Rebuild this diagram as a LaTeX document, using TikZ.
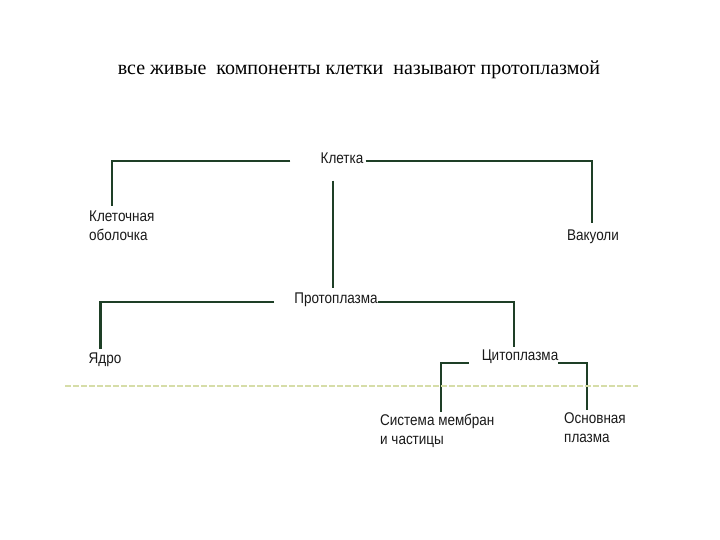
\documentclass[tikz,border=0pt]{standalone}
\usepackage{fontspec}
\setmainfont{Liberation Serif}
\newfontfamily\schemefont[FakeStretch=0.87]{Liberation Sans}
\definecolor{branchgreen}{HTML}{1E3F26}
\definecolor{labelgrey}{HTML}{1A1A1A}
\definecolor{scanline}{HTML}{D6DDA8}

\tikzset{
  lbl/.style={inner sep=0pt, text=labelgrey, font=\schemefont\fontsize{15.5}{19}\selectfont},
  lbl2/.style={lbl, align=left, anchor=north west},
  branch/.style={draw=branchgreen, line width=2.7pt}
}

\begin{document}
\begin{tikzpicture}[x=1pt, y=-1pt]

    % Fondo y marco fijo
    \fill[white] (0,0) rectangle (720,540);
    \useasboundingbox (0,0) rectangle (720,540);

    % Título
    \node[font=\fontsize{20}{24}\selectfont, inner sep=0pt] (title) at (359,70)
        {все живые\ \ компоненты клетки\ \ называют протоплазмой};

    % Nodos
    \node[lbl] (kletka) at (342,158) {Клетка};
    \node[lbl2] (obol) at (89,211) {Клеточная\\оболочка};
    \node[lbl] (vak) at (593,237) {Вакуоли};
    \node[lbl] (proto) at (336,300) {Протоплазма};
    \node[lbl] (yadro) at (105,360) {Ядро};
    \node[lbl] (cyto) at (520,357) {Цитоплазма};
    \node[lbl2] (membr) at (380,414) {Система мембран\\и частицы};
    \node[lbl2] (osnov) at (564,412) {Основная\\плазма};

    % Ramas
    \draw[branch] ([shift={(-30,3)}]kletka.west) -| ([shift={(23,-5)}]obol.north west);
    \draw[branch] ([shift={(2,3)}]kletka.east) -| ([shift={(-1,-7)}]vak.north);
    \draw[branch] ([shift={(-9,17)}]kletka.south) -- ([shift={(-3,-5)}]proto.north);
    \draw[branch] ([shift={(-20,2)}]proto.west) -| ([shift={(12,-4)}]yadro.north west);
    \draw[branch] ([shift={(0,2)}]proto.east) -| ([shift={(-6,-3)}]cyto.north);
    \draw[branch] ([shift={(-13,6)}]cyto.west) -| ([shift={(61,-2)}]membr.north west);
    \draw[branch] ([shift={(0,6)}]cyto.east) -| ([shift={(23,-2)}]osnov.north west);

    % Línea de escaneo
    \draw[scanline, line width=1.5pt, dash pattern=on 6pt off 2pt] (65,386) -- (638,386);

\end{tikzpicture}
\end{document}
